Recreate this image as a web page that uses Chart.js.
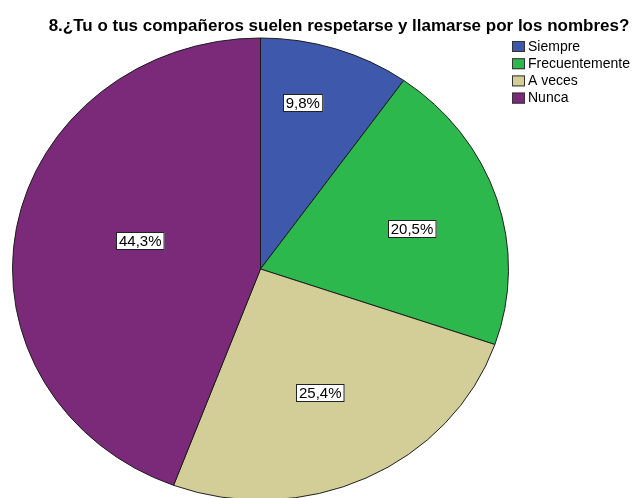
<!DOCTYPE html>
<html><head><meta charset="utf-8">
<script src="https://cdn.jsdelivr.net/npm/chart.js@4"></script>
<style>html,body{margin:0;padding:0;background:#fff}canvas{display:block}</style>
</head><body>
<canvas id="c" width="634" height="498"></canvas>
<script>
// ---- data ----
const categories = ['Siempre', 'Frecuentemente', 'A veces', 'Nunca'];
const percentages = [9.8, 20.5, 25.4, 44.3];
const pctLabels = ['9,8%', '20,5%', '25,4%', '44,3%'];
const titleText = '8.¿Tu o tus compañeros suelen respetarse y llamarse por los nombres?';

// ---- styles ----
const colors = ['#3E58AC', '#2DB84D', '#D3CE97', '#7B2A7A'];
const labelFrac = [0.74, 0.635, 0.59, 0.50];
const labelAngleNudge = [-4.3, 2, 1.1, 3.8];
const CY = 269, Y_SCALE = 231 / 248;

const ellipsePlugin = {
  id: 'ellipse',
  beforeDatasetsDraw(chart) {
    const ctx = chart.ctx, a = chart.chartArea;
    const cy0 = (a.top + a.bottom) / 2;
    ctx.save();
    ctx.translate(0, CY);
    ctx.scale(1, Y_SCALE);
    ctx.translate(0, -cy0);
  },
  afterDatasetsDraw(chart) {
    chart.ctx.restore();
  }
};

const decorPlugin = {
  id: 'decor',
  afterDraw(chart) {
    const ctx = chart.ctx;
    ctx.save();
    // title
    ctx.fillStyle = '#000';
    ctx.font = 'bold 17px Arial, "Liberation Sans", sans-serif';
    ctx.textAlign = 'center';
    ctx.textBaseline = 'middle';
    ctx.fillText(titleText, 339, 26);
    // legend
    ctx.font = '14px Arial, "Liberation Sans", sans-serif';
    ctx.textAlign = 'left';
    categories.forEach((c, i) => {
      const y = 41 + i * 17.2;
      ctx.fillStyle = colors[i];
      ctx.fillRect(512, y, 13, 11);
      ctx.strokeStyle = '#333';
      ctx.lineWidth = 1;
      ctx.strokeRect(512.5, y + 0.5, 12, 10);
      ctx.fillStyle = '#000';
      ctx.fillText(c, 528, y + 6);
    });
    // value labels
    const meta = chart.getDatasetMeta(0);
    ctx.font = '15px Arial, "Liberation Sans", sans-serif';
    ctx.textAlign = 'center';
    meta.data.forEach((arc, i) => {
      const mid = (arc.startAngle + arc.endAngle) / 2 + labelAngleNudge[i] * Math.PI / 180;
      const r = arc.outerRadius * labelFrac[i];
      const px = arc.x + Math.cos(mid) * r;
      const py = CY + Math.sin(mid) * r * Y_SCALE;
      const w = ctx.measureText(pctLabels[i]).width + 6;
      const h = 18;
      const x0 = Math.round(px - w / 2), y0 = Math.round(py - h / 2);
      ctx.fillStyle = '#fff';
      ctx.fillRect(x0, y0, w, h);
      ctx.strokeStyle = '#222';
      ctx.strokeRect(x0 + 0.5, y0 + 0.5, w - 1, h - 1);
      ctx.fillStyle = '#000';
      ctx.fillText(pctLabels[i], px, y0 + h / 2 + 1);
    });
    ctx.restore();
  }
};

new Chart(document.getElementById('c'), {
  type: 'pie',
  data: {
    labels: categories,
    datasets: [{
      data: percentages,
      backgroundColor: colors,
      borderColor: '#1a1a1a',
      borderWidth: 1
    }]
  },
  options: {
    responsive: false,
    animation: false,
    events: [],
    layout: { padding: { left: 12, right: 125, top: 0, bottom: 1 } },
    plugins: {
      legend: { display: false },
      title: { display: false },
      tooltip: { enabled: false }
    }
  },
  plugins: [ellipsePlugin, decorPlugin]
});
</script>
</body></html>
